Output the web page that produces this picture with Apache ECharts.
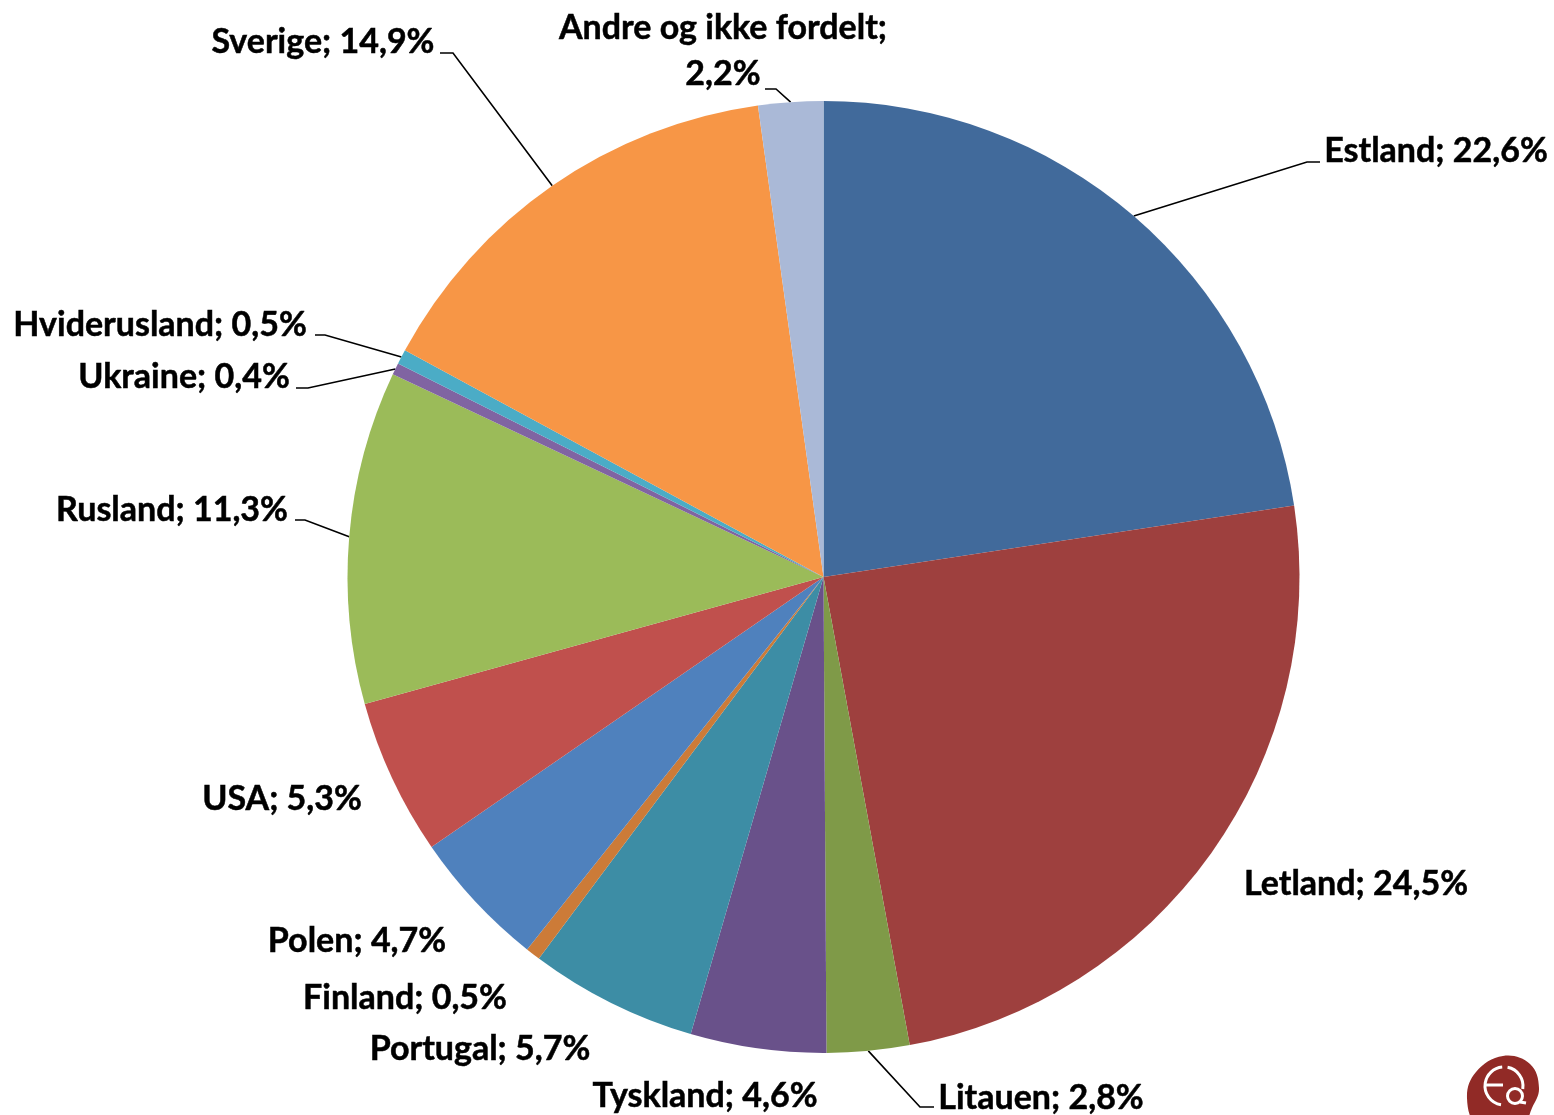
<!DOCTYPE html>
<html>
<head>
<meta charset="utf-8">
<style>html,body{margin:0;padding:0;background:#fff}#c{width:1554px;height:1115px}</style>
<script src="https://cdn.jsdelivr.net/npm/echarts@6/dist/echarts.min.js"></script>
</head>
<body>
<div id="c"></div>
<script>
const categories = ['Estland','Letland','Litauen','Tyskland','Portugal','Finland','Polen','USA','Rusland','Ukraine','Hviderusland','Sverige','Andre og ikke fordelt'];
const values = [22.6,24.5,2.8,4.6,5.7,0.5,4.7,5.3,11.3,0.4,0.5,14.9,2.2];
const colors = ['#416A9B','#9E403E','#7F9A48','#69518A','#3D8DA5','#CC7B38','#4F81BD','#C0504D','#9BBB59','#8064A2','#4BACC6','#F79646','#AAB9D7'];
const labelCenters = {
  'Estland':[1436,151],'Letland':[1356,884],'Litauen':[1041,1098],'Tyskland':[705,1096],
  'Portugal':[480,1049],'Finland':[405,998],'Polen':[357,941],'USA':[282,799],
  'Rusland':[172,510],'Ukraine':[184,377],'Hviderusland':[160,325],'Sverige':[323,42],
  'Andre og ikke fordelt':[723,51]
};
const leaders = {
  'Estland':[[1307,162],[1320,162]],
  'Litauen':[[920,1107],[934,1107]],
  'Rusland':[[305,520],[295,520]],
  'Ukraine':[[308,388],[296,388]],
  'Hviderusland':[[325,335],[315,335]],
  'Sverige':[[453,53],[440,53]],
  'Andre og ikke fordelt':[[776,89],[765,89]]
};
const fmt = v => v.toFixed(1).replace('.', ',') + '%';
const chart = echarts.init(document.getElementById('c'), null, {renderer:'canvas'});
chart.setOption({
  animation:false,
  backgroundColor:'#fff',
  series:[{
    type:'pie',
    center:[823.5,577],
    radius:[0,476],
    startAngle:90,
    clockwise:true,
    avoidLabelOverlap:false,
    silent:true,
    itemStyle:{borderWidth:0},
    label:{
      show:true,position:'outside',color:'#000',
      fontFamily:'Lato',fontWeight:'bold',fontSize:34,lineHeight:46,align:'center',
      textBorderColor:'#000',textBorderWidth:0.5,
      formatter:p=>{
        const sep = p.name==='Andre og ikke fordelt' ? ';\n' : '; ';
        return p.name+sep+fmt(p.value);
      }
    },
    labelLine:{show:true,length:20,length2:10,lineStyle:{color:'#000',width:1.6}},
    labelLayout:p=>{
      const name = categories[p.dataIndex];
      const c = labelCenters[name];
      const out = {x:c[0],y:c[1],align:'center',verticalAlign:'middle',hideOverlap:false};
      const l = leaders[name];
      if(l && p.labelLinePoints){
        out.labelLinePoints=[p.labelLinePoints[0],l[0],l[1]];
      }
      return out;
    },
    data:categories.map((n,i)=>({
      name:n,value:values[i],
      itemStyle:{color:colors[i]},
      labelLine:{show:!!leaders[n]}
    }))
  }],
  graphic:[{
    type:'group',silent:true,
    children:[
      {type:'polygon',shape:{smooth:0.4,points:[[1467,1098],[1476,1072],[1503,1056],[1530,1064],[1539,1088],[1532,1108],[1522,1125],[1478,1125]]},style:{fill:'#912A26'}},
      {type:'arc',shape:{cx:1504,cy:1086,r:19,startAngle:Math.PI*0.55,endAngle:Math.PI*1.47,clockwise:true},style:{fill:'none',stroke:'#fff',lineWidth:3}},
      {type:'arc',shape:{cx:1504,cy:1086,r:19,startAngle:Math.PI*1.56,endAngle:Math.PI*2.05,clockwise:true},style:{fill:'none',stroke:'#fff',lineWidth:3}},
      {type:'line',shape:{x1:1485,y1:1085,x2:1503,y2:1085},style:{stroke:'#fff',lineWidth:3}},
      {type:'circle',shape:{cx:1515,cy:1096,r:7.5},style:{fill:'#912A26',stroke:'#fff',lineWidth:3}},
      {type:'line',shape:{x1:1520,y1:1102,x2:1526,y2:1103},style:{stroke:'#fff',lineWidth:3}}
    ]
  }]
});
</script>
</body>
</html>
